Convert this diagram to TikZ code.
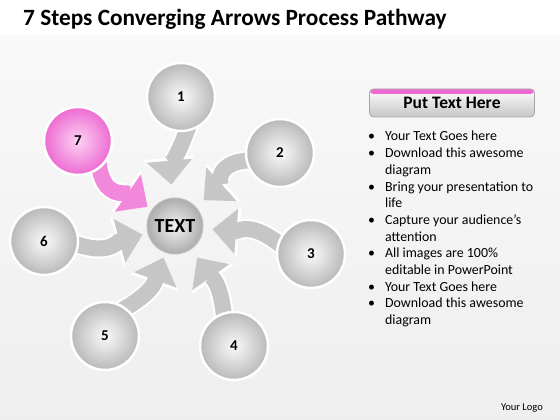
\documentclass[tikz,border=0pt]{standalone}
\usepackage{fontspec}
\setmainfont{Carlito}
\usetikzlibrary{arrows.meta,positioning}
\definecolor{pinkL}{HTML}{FBD3F3}
\definecolor{pinkD}{HTML}{EE6AD2}
\definecolor{bandG}{HTML}{C6C6C6}
\pgfdeclarelayer{back}
\pgfdeclarelayer{bands}
\pgfsetlayers{back,bands,main}
\tikzset{
  ball/.style={circle, minimum size=68pt, inner sep=0pt, shading=radial,
    inner color=white!96!gray, outer color=gray!55, draw=white, line width=2.5pt,
    font=\fontsize{15}{15}\selectfont\bfseries},
  pinkball/.style={ball, inner color=pinkL, outer color=pinkD},
  hub/.style={ball, minimum size=56pt, inner color=gray!10, outer color=gray!65,
    draw=gray!50, line width=1pt, font=\fontsize{20}{20}\selectfont\bfseries},
  band/.style={line width=16pt, draw=bandG, -{Triangle[length=24pt,width=44pt]},
    shorten <=-8pt, looseness=1.2,
    preaction={draw=white, line width=20pt, -{Triangle[length=27pt,width=50pt]}}},
  pinkband/.style={band, draw=pinkD!80}
}

\begin{document}
\begin{tikzpicture}[x=1pt,y=1pt]
  \useasboundingbox (0,0) rectangle (560,420);
  \begin{pgfonlayer}{back}
    \shade[top color=gray!5, bottom color=gray!13] (0,0) rectangle (560,385); %背景
    \fill[white] (0,385) rectangle (560,420); %タイトル帯
  \end{pgfonlayer}

  % タイトル
  \node[anchor=base west, inner sep=0pt, font=\fontsize{23.3}{23.3}\selectfont\bfseries]
    (title) at (23,394) {7 Steps Converging Arrows Process Pathway};

  % 中心と7つの円
  \node[hub] (ctr) at (175,194) {TEXT};
  \node[ball] (c1) at (181,323) {1};
  \node[ball] (c2) at (280,267) {2};
  \node[ball] (c3) at (311,166) {3};
  \node[ball] (c4) at (234,74) {4};
  \node[ball] (c5) at (105,84) {5};
  \node[ball] (c6) at (44,179) {6};
  \node[pinkball] (c7) at (78,279) {7};

  % 中心へ向かう矢印
  \begin{pgfonlayer}{bands}
    \draw[band, shorten >=13pt] (c1.-81) to[out=-110,in=95] (ctr);
    \draw[band, shorten >=10pt] (c2.192) to[out=180,in=42] (ctr);
    \draw[band, shorten >=9pt] (c3.161) to[out=140,in=-5] (ctr);
    \draw[band, shorten >=10pt] (c4.107) to[out=95,in=-55] (ctr);
    \draw[band, shorten >=5pt] (c5.53) to[out=30,in=-110] (ctr);
    \draw[band, shorten >=5pt] (c6.-7) to[out=-20,in=195] (ctr);
    \draw[pinkband, shorten >=5pt] (c7.-53) to[out=-85,in=145] (ctr);
  \end{pgfonlayer}

  % 右側の見出しボタン
  \node[rounded corners=4pt, minimum width=165pt, minimum height=28pt,
    top color=white, bottom color=gray!45, draw=gray!70, line width=0.8pt,
    font=\fontsize{17.5}{17.5}\selectfont\bfseries,
    path picture={\fill[pinkD] (path picture bounding box.north west)
      rectangle ([yshift=-5pt]path picture bounding box.north east);}]
    (head) at (452,317) {Put Text Here};

  % 箇条書き
  \node[anchor=base west, inner sep=0pt, align=left,
    font=\fontsize{13.9}{16.7}\selectfont] (list) at (368,279)
    {\begin{tabular}[t]{@{}l@{\hspace{10pt}}l@{}}
      • & Your Text Goes here\\
      • & Download this awesome\\
        & diagram\\
      • & Bring your presentation to\\
        & life\\
      • & Capture your audience’s\\
        & attention\\
      • & All images are 100\%\\
        & editable in PowerPoint\\
      • & Your Text Goes here\\
      • & Download this awesome\\
        & diagram
    \end{tabular}};

  \node[anchor=base east, inner sep=0pt, font=\fontsize{10.5}{10.5}\selectfont]
    (logo) at (543,9) {Your Logo};
\end{tikzpicture}
\end{document}
